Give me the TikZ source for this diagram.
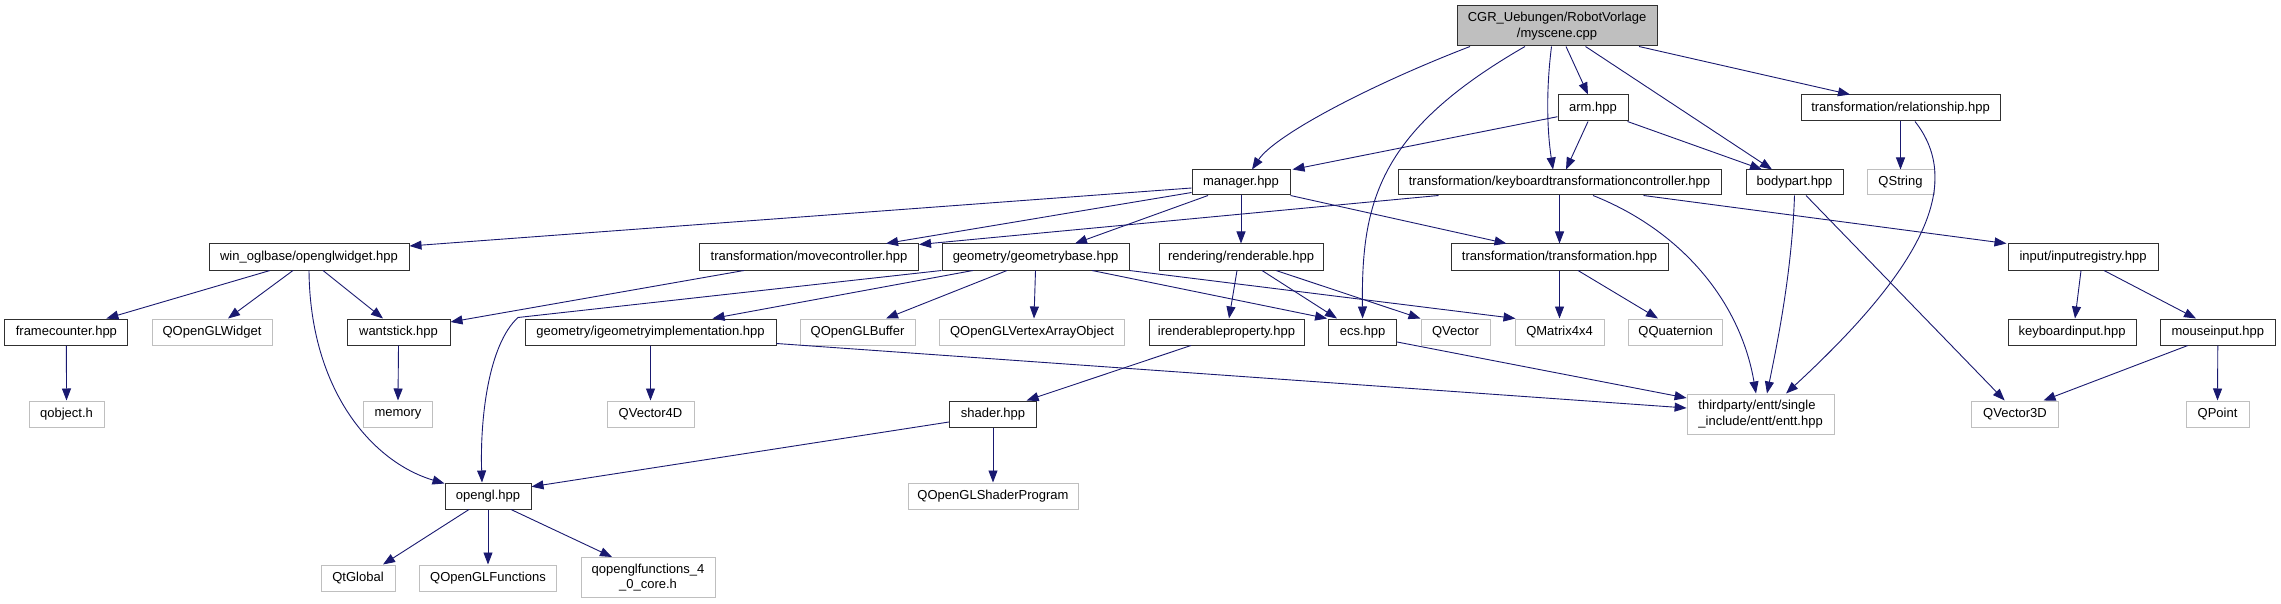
\documentclass[tikz,border=0pt]{standalone}
\usepackage{fontspec}
\setmainfont{Liberation Sans}
\usetikzlibrary{arrows.meta}
\definecolor{edgec}{HTML}{191970}
\definecolor{extc}{HTML}{BFBFBF}
\definecolor{mainfill}{HTML}{BFBFBF}
\definecolor{boxc}{HTML}{303030}
\tikzset{
  base/.style={inner sep=0pt, font=\fontsize{13}{15.5}\selectfont, line width=1pt, minimum height=26pt},
  doc/.style={base, draw=boxc, fill=white},
  ext/.style={base, draw=extc, fill=white},
  mainnode/.style={base, draw=boxc, fill=mainfill, align=center, minimum height=40pt},
  e/.style={draw=edgec, line width=0.9pt, -{Triangle[length=12pt,width=9pt]}, color=edgec}
}
\begin{document}
\begin{tikzpicture}[x=1pt,y=-1pt]
\fill[white] (0,0) rectangle (2281,604);
\useasboundingbox (0,0) rectangle (2281,604);
% rank 0
\node[mainnode, minimum width=200pt] (cgr) at (1557,26) {CGR\_Uebungen/RobotVorlage\\/myscene.cpp};
% rank 1
\node[doc, minimum width=70pt] (arm) at (1593,108) {arm.hpp};
\node[doc, minimum width=199pt] (relat) at (1900.5,108) {transformation/relationship.hpp};
% rank 2
\node[doc, minimum width=98pt, minimum height=25pt] (manager) at (1241,182.5) {manager.hpp};
\node[doc, minimum width=323pt, minimum height=25pt] (ktc) at (1559.5,182.5) {transformation/keyboardtransformationcontroller.hpp};
\node[doc, minimum width=97pt, minimum height=25pt] (bodypart) at (1794.5,182.5) {bodypart.hpp};
\node[ext, minimum width=67pt, minimum height=25pt] (qstring) at (1900.5,182.5) {QString};
% rank 3
\node[doc, minimum width=200pt] (win) at (309,257) {win\_oglbase/openglwidget.hpp};
\node[doc, minimum width=219pt] (movec) at (809,257) {transformation/movecontroller.hpp};
\node[doc, minimum width=187pt] (geom) at (1035.5,257) {geometry/geometrybase.hpp};
\node[doc, minimum width=164pt] (rend) at (1241,257) {rendering/renderable.hpp};
\node[doc, minimum width=217pt] (trans) at (1559.5,257) {transformation/transformation.hpp};
\node[doc, minimum width=150pt] (inputreg) at (2083,257) {input/inputregistry.hpp};
% rank 4
\node[doc, minimum width=123pt] (framec) at (66.4,332) {framecounter.hpp};
\node[ext, minimum width=120pt] (qglwidget) at (212,332) {QOpenGLWidget};
\node[doc, minimum width=103pt] (wantstick) at (398.5,332) {wantstick.hpp};
\node[doc, minimum width=251pt] (igeom) at (650.5,332) {geometry/igeometryimplementation.hpp};
\node[ext, minimum width=115pt] (qglbuffer) at (857.5,332) {QOpenGLBuffer};
\node[ext, minimum width=185pt] (qglvao) at (1032,332) {QOpenGLVertexArrayObject};
\node[doc, minimum width=155pt] (irend) at (1226.5,332) {irenderableproperty.hpp};
\node[doc, minimum width=68pt] (ecs) at (1362.6,332) {ecs.hpp};
\node[ext, minimum width=69pt] (qvector) at (1455.5,332) {QVector};
\node[ext, minimum width=89pt] (qmatrix) at (1559.5,332) {QMatrix4x4};
\node[ext, minimum width=94pt] (qquat) at (1675.6,332) {QQuaternion};
\node[doc, minimum width=128pt] (keyin) at (2072,332) {keyboardinput.hpp};
\node[doc, minimum width=115pt] (mousein) at (2217.8,332) {mouseinput.hpp};
% rank 5
\node[ext, minimum width=75pt] (qobject) at (66.5,414) {qobject.h};
\node[ext, minimum width=69pt] (memory) at (398,414) {memory};
\node[ext, minimum width=87pt] (qvec4) at (650.5,414) {QVector4D};
\node[doc, minimum width=87pt] (shader) at (993,414) {shader.hpp};
\node[ext, minimum width=147pt, minimum height=40pt, align=left] (entt) at (1760.6,414) {thirdparty/entt/single\\\_include/entt/entt.hpp};
\node[ext, minimum width=87pt] (qvec3d) at (2015,414) {QVector3D};
\node[ext, minimum width=63pt] (qpoint) at (2217.5,414) {QPoint};
% rank 6
\node[doc, minimum width=86pt] (opengl) at (488,496) {opengl.hpp};
\node[ext, minimum width=170pt] (qglshader) at (993,496) {QOpenGLShaderProgram};
% rank 7
\node[ext, minimum width=74pt] (qtglobal) at (358,578) {QtGlobal};
\node[ext, minimum width=137pt] (qglfunc) at (488,578) {QOpenGLFunctions};
\node[ext, minimum width=134pt, minimum height=40pt, align=center] (qglcore) at (648,577.5) {qopenglfunctions\_4\\\_0\_core.h};

% edges from cgr
\draw[e] ([xshift=-87pt]cgr.south) .. controls (1370,85) and (1275,135) .. ([xshift=11pt]manager.north);
\draw[e] ([xshift=-32pt]cgr.south) .. controls (1380,130) and (1361,200) .. (ecs.north);
\draw[e] ([xshift=-5.5pt]cgr.south) .. controls (1546,90) and (1547,130) .. ([xshift=-6.5pt]ktc.north);
\draw[e] ([xshift=9pt]cgr.south) -- ([xshift=-5pt]arm.north);
\draw[e] ([xshift=28.5pt]cgr.south) -- ([xshift=-22.5pt]bodypart.north);
\draw[e] ([xshift=82pt]cgr.south) -- ([xshift=-50.5pt]relat.north);
% arm
\draw[e] ([yshift=-8.7pt]arm.west) -- ([xshift=2pt]manager.north east);
\draw[e] ([xshift=-5pt]arm.south) -- ([xshift=6.5pt]ktc.north);
\draw[e] ([xshift=-1pt]arm.south east) -- ([xshift=-32.5pt]bodypart.north);
% relationship
\draw[e] (relat.south) -- (qstring.north);
\draw[e] ([xshift=14.5pt]relat.south) .. controls (1965,185) and (1920,270) .. ([xshift=25.4pt]entt.north);
% keyboardtransformationcontroller
\draw[e] ([xshift=-121pt]ktc.south) -- ([yshift=-1pt]movec.north east);
\draw[e] (ktc.south) -- (trans.north);
\draw[e] ([xshift=33.5pt]ktc.south) .. controls (1680,230) and (1740,300) .. ([xshift=-4.6pt]entt.north);
\draw[e] ([xshift=84pt]ktc.south) -- ([xshift=-1pt]inputreg.north west);
% bodypart
\draw[e] (bodypart.south) .. controls (1792,270) and (1778,340) .. ([xshift=6.4pt]entt.north);
\draw[e] ([xshift=11.5pt]bodypart.south) -- ([xshift=-10.3pt]qvec3d.north);
% manager
\draw[e] ([yshift=-5.5pt]manager.west) -- ([yshift=-2.5pt]win.north east);
\draw[e] ([yshift=-10pt]manager.west) -- ([xshift=77pt]movec.north);
\draw[e] ([xshift=-33pt]manager.south) -- ([xshift=39.5pt]geom.north);
\draw[e] (manager.south) -- (rend.north);
\draw[e] (manager.south east) -- ([xshift=-53pt]trans.north);
% win_oglbase
\draw[e] ([xshift=-39pt]win.south) -- ([xshift=40pt]framec.north);
\draw[e] ([xshift=-16pt]win.south) -- ([xshift=16pt]qglwidget.north);
\draw[e] ([xshift=14pt]win.south) -- ([xshift=-15.5pt]wantstick.north);
\draw[e] (win.south) .. controls (310,390) and (372,462) .. ([yshift=-1pt]opengl.north west);
% movecontroller
\draw[e] ([xshift=-65pt]movec.south) -- ([yshift=10pt]wantstick.east);
% geometrybase
\draw[e] ([xshift=-62.5pt]geom.south) -- ([xshift=62pt]igeom.north);
\draw[e] (geom.south west) -- (518,317.5) .. controls (488,345) and (480,420) .. ([xshift=-6pt]opengl.north);
\draw[e] ([xshift=-28.5pt]geom.south) -- ([xshift=28.5pt]qglbuffer.north);
\draw[e] (geom.south) -- ([xshift=2pt]qglvao.north);
\draw[e] ([xshift=56.5pt]geom.south) -- ([xshift=-1pt]ecs.north west);
\draw[e] (geom.south east) -- ([xshift=1pt]qmatrix.north west);
% renderable
\draw[e] ([xshift=-4pt]rend.south) -- ([xshift=2.5pt]irend.north);
\draw[e] ([xshift=21pt]rend.south) -- ([xshift=-25.6pt]ecs.north);
\draw[e] ([xshift=35pt]rend.south) -- (qvector.north west);
% transformation
\draw[e] (trans.south) -- (qmatrix.north);
\draw[e] ([xshift=18.5pt]trans.south) -- ([xshift=-17.6pt]qquat.north);
% inputregistry
\draw[e] ([xshift=-2pt]inputreg.south) -- ([xshift=3pt]keyin.north);
\draw[e] ([xshift=21pt]inputreg.south) -- ([xshift=-21.8pt]mousein.north);
% rank 4 sources
\draw[e] (framec.south) -- (qobject.north);
\draw[e] (wantstick.south) -- (memory.north);
\draw[e] (igeom.south) -- (qvec4.north);
\draw[e] ([yshift=2pt]igeom.south east) -- ([yshift=6pt]entt.west);
\draw[e] ([xshift=-35.5pt]irend.south) -- ([xshift=33.6pt]shader.north);
\draw[e] ([yshift=-10pt]ecs.east) -- ([yshift=16pt]entt.west);
\draw[e] ([xshift=-30pt]mousein.south) -- ([xshift=28.5pt]qvec3d.north);
\draw[e] (mousein.south) -- (qpoint.north);
% shader
\draw[e] ([yshift=-8pt]shader.west) -- ([yshift=9.3pt]opengl.east);
\draw[e] (shader.south) -- (qglshader.north);
% opengl
\draw[e] ([xshift=-19pt]opengl.south) -- ([xshift=25pt]qtglobal.north);
\draw[e] (opengl.south) -- (qglfunc.north);
\draw[e] ([xshift=23pt]opengl.south) -- ([xshift=-36pt]qglcore.north);
\end{tikzpicture}
\end{document}
